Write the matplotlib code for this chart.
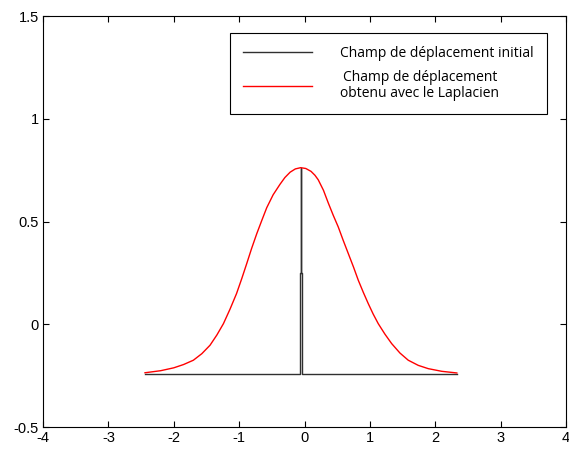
import matplotlib
matplotlib.use("Agg")
import matplotlib.pyplot as plt

# initial displacement field (baseline with a spike near x=0)
init_x = [-2.44, -0.075, -0.075, -0.058, -0.058, -0.058, -0.04, -0.04, 2.33]
init_y = [-0.24, -0.24, 0.25, 0.25, 0.76, 0.25, 0.25, -0.24, -0.24]

# displacement field obtained with the Laplacian
lap_x = [-2.44, -2.2, -2.0, -1.85, -1.70, -1.57, -1.445, -1.34, -1.24, -1.14, -1.04,
         -0.96, -0.884, -0.81, -0.73, -0.65, -0.578, -0.48, -0.375, -0.30, -0.22,
         -0.14, -0.058, 0.02, 0.10, 0.16, 0.21, 0.29, 0.364, 0.44, 0.517, 0.59, 0.67,
         0.75, 0.823, 0.90, 0.976, 1.05, 1.128, 1.23, 1.333, 1.46, 1.587, 1.74,
         1.893, 2.10, 2.33]
lap_y = [-0.236, -0.226, -0.212, -0.196, -0.175, -0.143, -0.102, -0.052, 0.003, 0.073, 0.149,
         0.222, 0.295, 0.368, 0.441, 0.508, 0.567, 0.630, 0.681, 0.714, 0.740,
         0.756, 0.762, 0.758, 0.744, 0.725, 0.703, 0.652, 0.590, 0.530, 0.473, 0.410, 0.344,
         0.278, 0.214, 0.155, 0.100, 0.050, 0.003, -0.048, -0.094, -0.140, -0.175, -0.200,
         -0.216, -0.229, -0.237]

labels = ["Champ de déplacement initial",
          "Champ de déplacement\nobtenu avec le Laplacien"]
xticks = [-4, -3, -2, -1, 0, 1, 2, 3, 4]
yticks = [-0.5, 0, 0.5, 1, 1.5]

plt.rcParams["font.family"] = ["Liberation Sans", "DejaVu Sans"]

fig = plt.figure(figsize=(5.69, 4.5), dpi=100)
ax = fig.add_axes([0.0756, 0.0511, 0.9191, 0.9133])

ax.plot(init_x, init_y, color="#303030", lw=1.0, label=labels[0])
ax.plot(lap_x, lap_y, color="#ff0000", lw=1.0, label=labels[1])

ax.set_xlim(-4, 4)
ax.set_ylim(-0.5, 1.5)
ax.set_xticks(xticks)
ax.set_xticklabels([str(t) for t in xticks])
ax.set_yticks(yticks)
ax.set_yticklabels(["-0.5", "0", "0.5", "1", "1.5"])
ax.tick_params(direction="in", length=4, width=0.8, top=True, right=True,
               labelsize=10.5, pad=3)
for s in ax.spines.values():
    s.set_linewidth(0.8)

leg = ax.legend(loc="upper right", bbox_to_anchor=(0.964, 0.959), frameon=True,
                fancybox=False, edgecolor="black", framealpha=1,
                handlelength=5.0, handletextpad=2.05, labelspacing=0.62,
                borderpad=0.94, borderaxespad=0,
                prop={"family": ["Open Sans", "DejaVu Sans"], "size": 10})
leg.get_frame().set_linewidth(0.8)
leg.get_texts()[1].set_multialignment("center")
leg.get_texts()[1].set_linespacing(1.1)

fig.savefig("out.png", dpi=100)
